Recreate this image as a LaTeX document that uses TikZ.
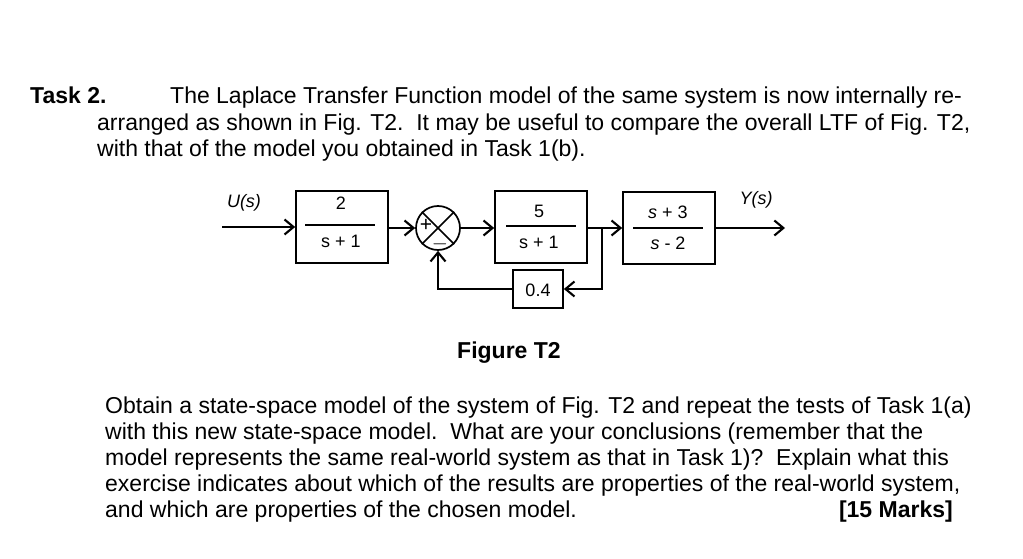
\documentclass[tikz,border=0pt]{standalone}
\usepackage{fontspec}
\setmainfont{Liberation Sans}
\usetikzlibrary{arrows.meta, positioning}

\begin{document}
\begin{tikzpicture}[
    x=1pt, y=-1pt,
    >={Straight Barb[length=9pt, width=15pt, line width=2.1pt]},
    signal/.style={->, line width=2.8pt},
    fbline/.style={line width=1.8pt},
    block/.style={draw, line width=1.7pt, minimum width=92pt, minimum height=72pt, inner sep=0pt},
    sumnode/.style={draw, circle, line width=1.7pt, minimum size=44pt, inner sep=0pt},
    body/.style={font=\fontsize{23}{27}\selectfont, anchor=base west, inner sep=0pt},
    bodybf/.style={body, font=\fontsize{23}{27}\selectfont\bfseries},
    tf/.style={font=\fontsize{18}{20}\selectfont, inner sep=0pt},
    sign/.style={font=\fontsize{21}{21}\selectfont, inner sep=0pt},
]
\useasboundingbox (0,0) rectangle (1023,559);

% === Enunciado ===
\node[bodybf] (task) at (30,104) {Task 2.};
\node[body] (l1) at (170,104) {The Laplace Transfer Function model of the same system is now internally re-};
\node[body] (l2) at (97,131) {arranged as shown in Fig. T2.\ \ It may be useful to compare the overall LTF of Fig. T2,};
\node[body] (l3) at (97,157) {with that of the model you obtained in Task 1(b).};

% === Diagrama de bloques ===
\node[block] (g1) at (342,227) {};
\node[tf] (g1n) at (341,203) {2};
\node[tf] (g1d) at (341,241) {s + 1};
\draw[line width=1.4pt] (305,225) -- (375,225);

\node[sumnode] (sum) at (438,228) {};
\draw[line width=1.7pt] (sum.north west) -- (sum.south east);
\draw[line width=1.7pt] (sum.north east) -- (sum.south west);
\node[sign] (plus) at (426,225) {+};
\node[sign] (minus) at (440,244) {$-$};

\node[block] (g2) at (541,227) {};
\node[tf] (g2n) at (539,211) {5};
\node[tf] (g2d) at (539,242) {s + 1};
\draw[line width=1.4pt] (506,226) -- (576,226);

\node[block] (g3) at (669,228) {};
\node[tf] (g3n) at (668,212) {\itshape s\upshape{} + 3};
\node[tf] (g3d) at (668,243) {\itshape s\upshape{} - 2};
\draw[line width=1.4pt] (633,228) -- (703,228);

\node[block, minimum width=50pt, minimum height=38pt] (k) at (538,289) {};
\node[tf] (kval) at (538,290) {0.4};

% Entrada y salida
\coordinate (uin) at (222,227);
\coordinate (yout) at (785,228);
\coordinate (branch) at (602,228);
\node[tf, font=\fontsize{18}{20}\selectfont\itshape] (ulabel) at (244,203) {U(s)};
\node[tf, font=\fontsize{18}{20}\selectfont\itshape] (ylabel) at (756,200) {Y(s)};

% Flechas
\draw[signal] (uin) -- (g1.west |- uin);
\draw[signal] (g1.east |- sum) -- (sum.west);
\draw[signal] (sum.east) -- (g2.west |- sum);
\draw[line width=2.8pt] (g2.east |- branch) -- (branch);
\draw[signal] (branch) -- (g3.west |- branch);
\draw[signal] (g3.east |- yout) -- (yout);

% Realimentación
\draw[fbline, ->] (branch) |- (k.east);
\draw[fbline, ->] (k.west) -| (sum.south);

% === Pie de figura ===
\node[bodybf, anchor=base] (cap) at (509,358) {Figure T2};

% === Pregunta ===
\node[body] (p1) at (105,413) {Obtain a state-space model of the system of Fig. T2 and repeat the tests of Task 1(a)};
\node[body] (p2) at (105,439) {with this new state-space model.\ \ What are your conclusions (remember that the};
\node[body] (p3) at (105,465) {model represents the same real-world system as that in Task 1)?\ \ Explain what this};
\node[body] (p4) at (105,491) {exercise indicates about which of the results are properties of the real-world system,};
\node[body] (p5) at (105,517) {and which are properties of the chosen model.};
\node[bodybf, anchor=base east] (marks) at (953,517) {[15 Marks]};

\end{tikzpicture}
\end{document}
